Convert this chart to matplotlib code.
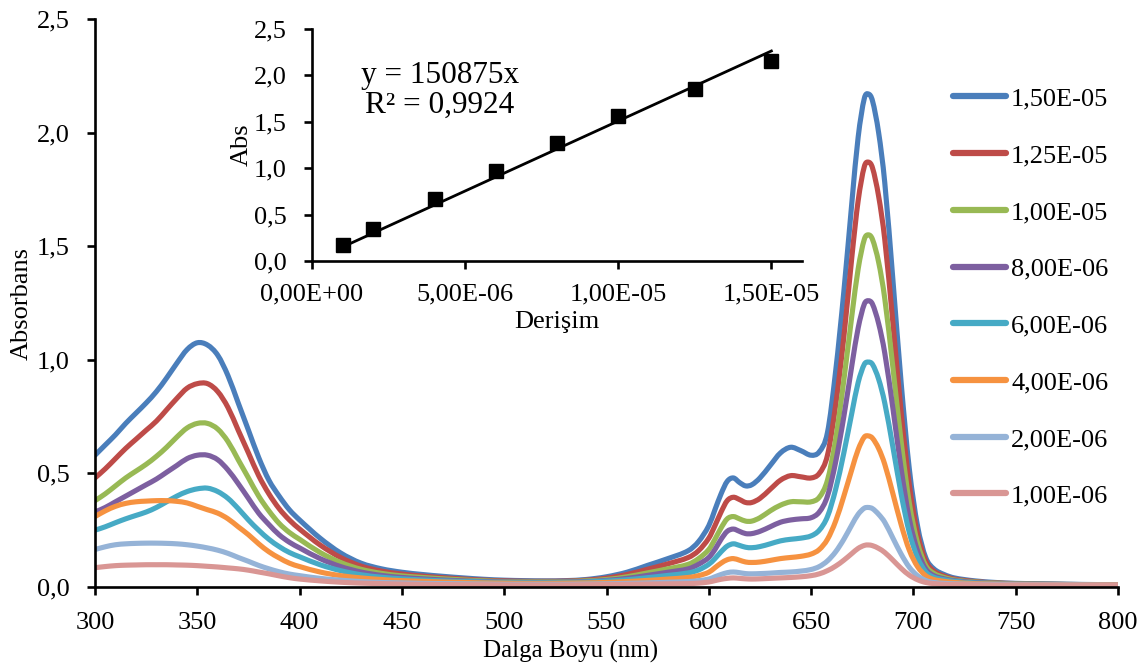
import matplotlib
matplotlib.use("Agg")
import matplotlib.pyplot as plt
from matplotlib.lines import Line2D
from matplotlib.path import Path
from matplotlib.patches import PathPatch
from matplotlib.ticker import FuncFormatter, MultipleLocator

# ---------------------------------------------------------------------------
# UV-Vis spectra at several concentrations (absorbance vs wavelength, nm)
# ---------------------------------------------------------------------------
wavelength = [300, 305, 310, 315, 320, 325, 330, 335, 340, 345, 350, 355, 360,
              365, 370, 375, 380, 385, 390, 395, 400, 410, 420, 430, 440, 450,
              460, 470, 480, 490, 500, 510, 520, 530, 540, 550, 560, 570, 580,
              590, 595, 600, 603, 606, 609, 612, 615, 618, 621, 625, 630, 635,
              640, 645, 650, 654, 658, 662, 666, 670, 673, 676, 678, 680, 683,
              686, 690, 694, 698, 702, 706, 710, 715, 720, 730, 740, 750, 775,
              800]

abs_150e6 = [0.58, 0.625, 0.67, 0.72, 0.765, 0.81, 0.86, 0.92, 0.985, 1.045, 1.075,
             1.065, 1.02, 0.93, 0.81, 0.69, 0.57, 0.47, 0.40, 0.34, 0.295, 0.215,
             0.15, 0.105, 0.08, 0.065, 0.055, 0.047, 0.04, 0.034, 0.03, 0.028,
             0.027, 0.028, 0.033, 0.045, 0.065, 0.095, 0.125, 0.16, 0.2, 0.27,
             0.34, 0.41, 0.465, 0.48, 0.46, 0.445, 0.45, 0.48, 0.535, 0.59, 0.615,
             0.6, 0.58, 0.595, 0.68, 0.95, 1.3, 1.7, 1.98, 2.15, 2.17, 2.14, 2.0,
             1.78, 1.35, 0.9, 0.52, 0.27, 0.13, 0.08, 0.055, 0.04, 0.027, 0.02,
             0.016, 0.012, 0.01]

abs_125e6 = [0.48, 0.52, 0.565, 0.61, 0.65, 0.69, 0.73, 0.78, 0.83, 0.875, 0.895,
             0.895, 0.86, 0.79, 0.69, 0.59, 0.49, 0.41, 0.345, 0.295, 0.255,
             0.185, 0.13, 0.092, 0.07, 0.057, 0.048, 0.041, 0.035, 0.03, 0.027,
             0.025, 0.025, 0.026, 0.03, 0.039, 0.055, 0.078, 0.102, 0.13, 0.16,
             0.215, 0.27, 0.33, 0.38, 0.395, 0.385, 0.372, 0.372, 0.39, 0.43,
             0.47, 0.49, 0.485, 0.48, 0.5, 0.58, 0.8, 1.1, 1.46, 1.7, 1.85, 1.87,
             1.845, 1.72, 1.53, 1.16, 0.77, 0.45, 0.235, 0.115, 0.07, 0.048,
             0.035, 0.024, 0.018, 0.015, 0.011, 0.01]

abs_100e6 = [0.38, 0.41, 0.445, 0.48, 0.51, 0.54, 0.575, 0.615, 0.66, 0.70, 0.72,
             0.72, 0.695, 0.64, 0.56, 0.48, 0.40, 0.335, 0.28, 0.24, 0.21, 0.152,
             0.108, 0.078, 0.06, 0.049, 0.042, 0.036, 0.031, 0.027, 0.024, 0.023,
             0.023, 0.024, 0.027, 0.033, 0.045, 0.062, 0.08, 0.1, 0.125, 0.165,
             0.21, 0.26, 0.3, 0.31, 0.3, 0.29, 0.29, 0.305, 0.335, 0.36, 0.375,
             0.375, 0.375, 0.395, 0.47, 0.65, 0.91, 1.2, 1.4, 1.53, 1.55, 1.53,
             1.43, 1.27, 0.965, 0.64, 0.37, 0.195, 0.095, 0.06, 0.042, 0.031,
             0.022, 0.017, 0.014, 0.011, 0.01]

abs_80e7 = [0.33, 0.35, 0.375, 0.40, 0.425, 0.45, 0.475, 0.505, 0.535, 0.565,
            0.58, 0.58, 0.56, 0.515, 0.455, 0.39, 0.325, 0.275, 0.23, 0.197,
            0.172, 0.125, 0.09, 0.066, 0.051, 0.042, 0.036, 0.031, 0.027, 0.024,
            0.022, 0.021, 0.021, 0.022, 0.024, 0.029, 0.038, 0.051, 0.065, 0.08,
            0.1, 0.13, 0.165, 0.21, 0.245, 0.255, 0.245, 0.235, 0.235, 0.245,
            0.265, 0.285, 0.295, 0.3, 0.305, 0.33, 0.4, 0.55, 0.75, 0.98, 1.14,
            1.245, 1.26, 1.245, 1.16, 1.03, 0.785, 0.52, 0.3, 0.16, 0.08, 0.05,
            0.036, 0.028, 0.02, 0.016, 0.013, 0.011, 0.01]

abs_60e7 = [0.25, 0.265, 0.283, 0.30, 0.315, 0.33, 0.35, 0.375, 0.40, 0.42,
            0.432, 0.435, 0.42, 0.39, 0.345, 0.295, 0.25, 0.21, 0.178, 0.152,
            0.133, 0.098, 0.072, 0.054, 0.043, 0.036, 0.031, 0.027, 0.024, 0.022,
            0.02, 0.019, 0.019, 0.02, 0.022, 0.026, 0.032, 0.041, 0.051, 0.062,
            0.075, 0.1, 0.125, 0.155, 0.18, 0.19, 0.183, 0.175, 0.173, 0.178,
            0.19, 0.203, 0.21, 0.215, 0.225, 0.25, 0.31, 0.43, 0.59, 0.77, 0.9,
            0.98, 0.99, 0.98, 0.915, 0.81, 0.615, 0.41, 0.24, 0.13, 0.067, 0.043,
            0.032, 0.025, 0.018, 0.015, 0.013, 0.011, 0.01]

abs_40e7 = [0.31, 0.335, 0.355, 0.368, 0.375, 0.378, 0.38, 0.38, 0.377, 0.37,
            0.355, 0.34, 0.325, 0.30, 0.265, 0.23, 0.19, 0.155, 0.128, 0.105,
            0.09, 0.066, 0.05, 0.04, 0.033, 0.028, 0.025, 0.022, 0.02, 0.018,
            0.017, 0.016, 0.016, 0.017, 0.018, 0.02, 0.024, 0.029, 0.035, 0.042,
            0.05, 0.065, 0.085, 0.105, 0.12, 0.125, 0.118, 0.11, 0.108, 0.11,
            0.117, 0.125, 0.13, 0.135, 0.145, 0.165, 0.21, 0.29, 0.4, 0.52,
            0.605, 0.66, 0.665, 0.655, 0.61, 0.54, 0.41, 0.275, 0.162, 0.09,
            0.05, 0.033, 0.025, 0.02, 0.015, 0.013, 0.012, 0.01, 0.01]

abs_20e7 = [0.165, 0.177, 0.186, 0.19, 0.192, 0.193, 0.193, 0.192, 0.19, 0.186,
            0.18, 0.172, 0.162, 0.148, 0.13, 0.113, 0.095, 0.08, 0.067, 0.057,
            0.05, 0.038, 0.03, 0.024, 0.02, 0.018, 0.016, 0.015, 0.014, 0.013,
            0.012, 0.012, 0.012, 0.012, 0.013, 0.014, 0.016, 0.018, 0.021, 0.024,
            0.028, 0.035, 0.045, 0.055, 0.063, 0.066, 0.063, 0.059, 0.058, 0.059,
            0.061, 0.064, 0.066, 0.07, 0.077, 0.09, 0.115, 0.155, 0.21, 0.275,
            0.32, 0.347, 0.35, 0.345, 0.32, 0.285, 0.215, 0.145, 0.087, 0.05,
            0.029, 0.02, 0.016, 0.014, 0.012, 0.011, 0.01, 0.009, 0.008]

abs_10e7 = [0.085, 0.09, 0.094, 0.096, 0.097, 0.098, 0.098, 0.098, 0.097, 0.096,
            0.094, 0.091, 0.088, 0.084, 0.08, 0.074, 0.066, 0.058, 0.049, 0.041,
            0.035, 0.027, 0.021, 0.017, 0.015, 0.013, 0.012, 0.011, 0.01, 0.01,
            0.009, 0.009, 0.009, 0.009, 0.01, 0.011, 0.012, 0.013, 0.014, 0.015,
            0.017, 0.022, 0.028, 0.034, 0.038, 0.04, 0.038, 0.036, 0.035, 0.036,
            0.038, 0.04, 0.042, 0.045, 0.05, 0.058, 0.072, 0.092, 0.118, 0.148,
            0.17, 0.183, 0.185, 0.182, 0.17, 0.152, 0.118, 0.082, 0.052, 0.032,
            0.02, 0.015, 0.012, 0.011, 0.01, 0.009, 0.009, 0.008, 0.008]

series_labels = ["1,50E-05", "1,25E-05", "1,00E-05", "8,00E-06",
                 "6,00E-06", "4,00E-06", "2,00E-06", "1,00E-06"]
series_values = [abs_150e6, abs_125e6, abs_100e6, abs_80e7,
                 abs_60e7, abs_40e7, abs_20e7, abs_10e7]
series_colors = ["#4A7EBB", "#BE4B48", "#98B954", "#7D5FA0",
                 "#46AAC5", "#F69240", "#95B3D7", "#D99694"]

# Calibration (Q-band maximum vs concentration)
conc = [1.0e-6, 2.0e-6, 4.0e-6, 6.0e-6, 8.0e-6, 1.0e-5, 1.25e-5, 1.5e-5]
conc_abs = [0.17, 0.34, 0.665, 0.97, 1.27, 1.56, 1.85, 2.16]
slope = 150875
fit_x = [conc[0], conc[-1]]
fit_y = [slope * c for c in fit_x]
eq_lines = ["y = 150875x", "R² = 0,9924"]

inset_xticks = [0.0, 5e-6, 1e-5, 1.5e-5]
inset_xticklabels = ["0,00E+00", "5,00E-06", "1,00E-05", "1,50E-05"]


def smooth_path(xs, ys):
    """Smoothed line through every data point (cubic Hermite as Bezier)."""
    n = len(xs)
    slopes = []
    for i in range(n):
        a, b = max(i - 1, 0), min(i + 1, n - 1)
        slopes.append((ys[b] - ys[a]) / (xs[b] - xs[a]))
    verts = [(xs[0], ys[0])]
    codes = [Path.MOVETO]
    for i in range(n - 1):
        h = xs[i + 1] - xs[i]
        verts += [(xs[i] + h / 3, ys[i] + slopes[i] * h / 3),
                  (xs[i + 1] - h / 3, ys[i + 1] - slopes[i + 1] * h / 3),
                  (xs[i + 1], ys[i + 1])]
        codes += [Path.CURVE4] * 3
    return Path(verts, codes)


# ---------------------------------------------------------------------------
plt.rcParams["font.family"] = ["Liberation Serif", "DejaVu Serif"]

W, H = 1147, 669
fig = plt.figure(figsize=(W / 100, H / 100), dpi=100)


def frac_box(x0, y0, x1, y1):
    return [x0 / W, 1 - y1 / H, (x1 - x0) / W, (y1 - y0) / H]


comma = FuncFormatter(lambda v, p: f"{v:.1f}".replace(".", ","))
TICK_FS = 19
SPINE_W = 1.9

ax = fig.add_axes(frac_box(95, 19, 1118, 587))
handles = []
for lab, vals, col in zip(series_labels, series_values, series_colors):
    ax.add_patch(PathPatch(smooth_path(wavelength, vals), facecolor="none",
                           edgecolor=col, lw=3.7, capstyle="round",
                           joinstyle="round"))
    handles.append(Line2D([], [], color=col, lw=4.5, solid_capstyle="round"))

ax.set_xlim(300, 800)
ax.set_ylim(0, 2.5)
ax.xaxis.set_major_locator(MultipleLocator(50))
ax.yaxis.set_major_locator(MultipleLocator(0.5))
ax.yaxis.set_major_formatter(comma)
for s in ("top", "right"):
    ax.spines[s].set_visible(False)
for s in ("left", "bottom"):
    ax.spines[s].set_linewidth(SPINE_W)
ax.tick_params(direction="out", length=6, width=SPINE_W, labelsize=TICK_FS)
ax.tick_params(axis="x", pad=12)
ax.tick_params(axis="y", pad=12)
ax.set_xlabel("Dalga Boyu (nm)", fontsize=18)
ax.xaxis.set_label_coords(0.465, -0.094)
ax.set_ylabel("Absorbans", fontsize=TICK_FS)
ax.yaxis.set_label_coords(-0.061, 0.5)

ax.legend(handles, series_labels, loc="upper left",
          bbox_to_anchor=(0.839, 0.880), frameon=False, fontsize=TICK_FS,
          handlelength=2.0, handletextpad=0.19, labelspacing=1.26,
          borderaxespad=0, borderpad=0)

# Inset: calibration line
ins = fig.add_axes(frac_box(312, 29, 802, 261))
ins.patch.set_alpha(0)
ins.plot(fit_x, fit_y, color="black", lw=2.0)
ins.plot(conc, conc_abs, ls="none", marker="s", ms=10, color="black")
ins.set_xlim(0, 1.6e-5)
ins.set_ylim(0, 2.5)
ins.set_xticks(inset_xticks)
ins.set_xticklabels(inset_xticklabels)
ins.yaxis.set_major_locator(MultipleLocator(0.5))
ins.yaxis.set_major_formatter(comma)
for s in ("top", "right"):
    ins.spines[s].set_visible(False)
for s in ("left", "bottom"):
    ins.spines[s].set_linewidth(SPINE_W)
ins.tick_params(direction="out", length=6, width=SPINE_W, labelsize=TICK_FS)
ins.tick_params(axis="x", pad=10)
ins.tick_params(axis="y", pad=12)
ins.set_xlabel("Derişim", fontsize=TICK_FS, labelpad=4)
ins.set_ylabel("Abs", fontsize=TICK_FS, labelpad=1)
ins.text(0.261, 0.80, eq_lines[0], transform=ins.transAxes, ha="center",
         va="center", fontsize=22.5)
ins.text(0.261, 0.672, eq_lines[1], transform=ins.transAxes, ha="center",
         va="center", fontsize=22.5)

fig.savefig("out.png", dpi=100)
